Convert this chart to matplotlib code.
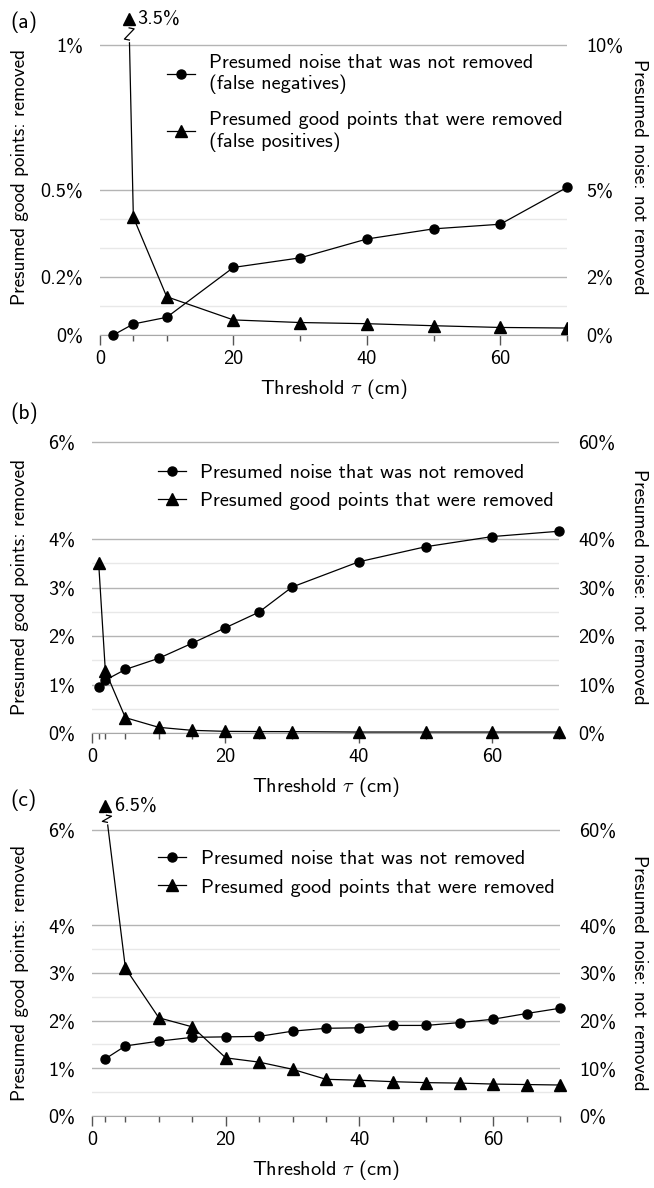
import matplotlib
matplotlib.use('Agg')
import matplotlib.pyplot as plt
import numpy as np

plt.rcParams['font.family'] = ['cmss10', 'DejaVu Sans']
plt.rcParams['mathtext.fontset'] = 'cm'
plt.rcParams['font.size'] = 14.6
plt.rcParams['axes.unicode_minus'] = False

# ---- data (values in percent) ----
# (a)
a_tau = [2, 5, 10, 20, 30, 40, 50, 60, 70]
a_noise = [0.0, 0.38, 0.61, 2.33, 2.66, 3.31, 3.66, 3.82, 5.09]   # right axis
a_good = [3.5, 0.406, 0.132, 0.052, 0.043, 0.039, 0.032, 0.026, 0.024]  # left axis
a_xticks = [0, 5, 10, 20, 30, 40, 50, 60, 70]

# (b)
b_tau = [1, 2, 5, 10, 15, 20, 25, 30, 40, 50, 60, 70]
b_noise = [9.5, 10.9, 13.1, 15.4, 18.5, 21.7, 24.9, 30.1, 35.3, 38.4, 40.5, 41.6]
b_good = [3.5, 1.28, 0.317, 0.117, 0.055, 0.034, 0.030, 0.028, 0.02, 0.02, 0.02, 0.02]

# (c)
c_tau = [2, 5, 10, 15, 20, 25, 30, 35, 40, 45, 50, 55, 60, 65, 70]
c_noise = [12.0, 14.7, 15.7, 16.5, 16.6, 16.7, 17.8, 18.4, 18.5, 19.0, 19.0, 19.6, 20.3, 21.5, 22.6]
c_good = [6.5, 3.1, 2.06, 1.87, 1.22, 1.13, 0.98, 0.77, 0.75, 0.72, 0.70, 0.69, 0.67, 0.66, 0.65]

a_yticks = [0, 0.2, 0.5, 1]
a_ylab = ['0%', '0.2%', '0.5%', '1%']
a_rlab = ['0%', '2%', '5%', '10%']
a_minor = [0.1, 0.3, 0.4]
bc_yticks = [0, 1, 2, 3, 4, 6]
bc_ylab = ['0%', '1%', '2%', '3%', '4%', '6%']
bc_rlab = ['0%', '10%', '20%', '30%', '40%', '60%']
bc_minor = [0.5, 1.5, 2.5, 3.5]

lab_n_long = 'Presumed noise that was not removed\n(false negatives)'
lab_g_long = 'Presumed good points that were removed\n(false positives)'
lab_n = 'Presumed noise that was not removed'
lab_g = 'Presumed good points that were removed'

W, H = 654, 1188
fig = plt.figure(figsize=(W / 100, H / 100), dpi=100)


def rect(x0, x1, ybot, pxunit, ymax):
    h = pxunit * ymax
    return [x0 / W, 1 - ybot / H, (x1 - x0) / W, h / H]


def xat(p0, p1, y):
    return p0[0] + (p1[0] - p0[0]) * (y - p0[1]) / (p1[1] - p0[1])


def zigzag(ax, p0, p1, ylo, yhi):
    # break mark on the steep first segment
    xlo, xhi = xat(p0, p1, ylo), xat(p0, p1, yhi)
    ax.plot([xlo, xhi], [ylo, yhi], color='white', lw=3, zorder=5, clip_on=False)
    lo = ax.transData.transform((xlo, ylo))
    hi = ax.transData.transform((xhi, yhi))
    pts = np.array([hi, hi + [5, -1], lo + [-5, 1], lo])
    d = ax.transData.inverted().transform(pts)
    ax.plot(d[:, 0], d[:, 1], color='black', lw=0.9, zorder=6, clip_on=False)


def panel(r, ymax, yticks, ylab, rlab, yminor, xminor, tau, noise, good,
          labels, anchor, tag, tagy, lspace):
    ax = fig.add_axes(r)
    ax.set_xlim(0, 70)
    ax.set_ylim(0, ymax)
    for s in ['top', 'left', 'right']:
        ax.spines[s].set_visible(False)
    ax.spines['bottom'].set_color('#a8a8a8')
    ax.set_yticks(yticks)
    ax.set_yticklabels(ylab)
    ax.set_yticks(yminor, minor=True)
    ax.tick_params(axis='y', which='both', length=0, pad=12)
    ax.grid(axis='y', which='major', color='#b4b4b4', lw=1)
    ax.grid(axis='y', which='minor', color='#e8e8e8', lw=1)
    ax.set_xticks([0, 20, 40, 60])
    ax.set_xticks([t for t in xminor if t % 20 != 0], minor=True)
    ax.tick_params(axis='x', which='major', length=7, width=1, color='#555555', pad=4)
    ax.tick_params(axis='x', which='minor', length=4, width=1, color='#555555')
    ax.set_xlabel(r'Threshold $\tau$ (cm)', labelpad=6)
    ax.set_ylabel('Presumed good points: removed', fontsize=13.8)
    w = r[2] * W
    ax.yaxis.set_label_coords((29 - r[0] * W) / w, 0.5)

    ax2 = ax.twinx()
    ax2.set_ylim(0, ymax * 10)
    for s in ['top', 'left', 'right', 'bottom']:
        ax2.spines[s].set_visible(False)
    ax2.set_yticks([t * 10 for t in yticks])
    ax2.set_yticklabels(rlab)
    ax2.tick_params(axis='y', length=0, pad=14)
    ax2.set_ylabel('Presumed noise: not removed', rotation=-90, fontsize=13.8)
    ax2.yaxis.set_label_coords((648 - r[0] * W) / w, 0.5)

    lg, = ax.plot(tau, good, color='black', lw=0.9, marker='^', ms=8,
                  clip_on=(tag == '(a)'), zorder=3)
    ln, = ax2.plot(tau, noise, color='black', lw=0.9, marker='o', ms=6.5,
                   clip_on=False, zorder=3)
    ax2.legend([ln, lg], labels, loc='upper left', bbox_to_anchor=anchor,
               frameon=False, borderpad=0, borderaxespad=0, handlelength=1.4,
               handletextpad=0.7, labelspacing=lspace)
    fig.text(10 / W, 1 - tagy / H, tag, fontsize=15.5, va='center', ha='left')
    return ax


# (a)
axa = panel(rect(100, 567, 335, 290, 1.09), 1.09, a_yticks, a_ylab, a_rlab, a_minor,
            a_xticks, a_tau, a_noise, a_good, [lab_n_long, lab_g_long],
            (0.143, 0.89), '(a)', 22, 0.85)
p0, p1 = (a_tau[0], a_good[0]), (a_tau[1], a_good[1])
xc = xat(p0, p1, 1.09)
axa.plot([xc], [1.09], marker='^', ms=8, color='black', clip_on=False, zorder=6)
axa.annotate('%.1f%%' % a_good[0], xy=(xc, 1.09), xytext=(6, 0),
             textcoords='offset points', va='center', ha='left',
             annotation_clip=False)
zigzag(axa, p0, p1, 1.017, 1.059)

# (b)
axb = panel(rect(92, 559, 733, 48.5, 6.02), 6.02, bc_yticks, bc_ylab, bc_rlab, bc_minor,
            [0] + b_tau, b_tau, b_noise, b_good, [lab_n, lab_g],
            (0.141, 0.922), '(b)', 413, 0.5)

# (c)
axc = panel(rect(92, 560, 1116, 47.67, 6.02), 6.02, bc_yticks, bc_ylab, bc_rlab, bc_minor,
            [0] + c_tau, c_tau, c_noise, c_good, [lab_n, lab_g],
            (0.141, 0.927), '(c)', 800, 0.5)
q0, q1 = (c_tau[0], c_good[0]), (c_tau[1], c_good[1])
axc.annotate('%.1f%%' % c_good[0], xy=q0, xytext=(6, 0),
             textcoords='offset points', va='center', ha='left',
             annotation_clip=False)
zigzag(axc, q0, q1, 6.16, 6.31)

fig.savefig('out.png', dpi=100)
